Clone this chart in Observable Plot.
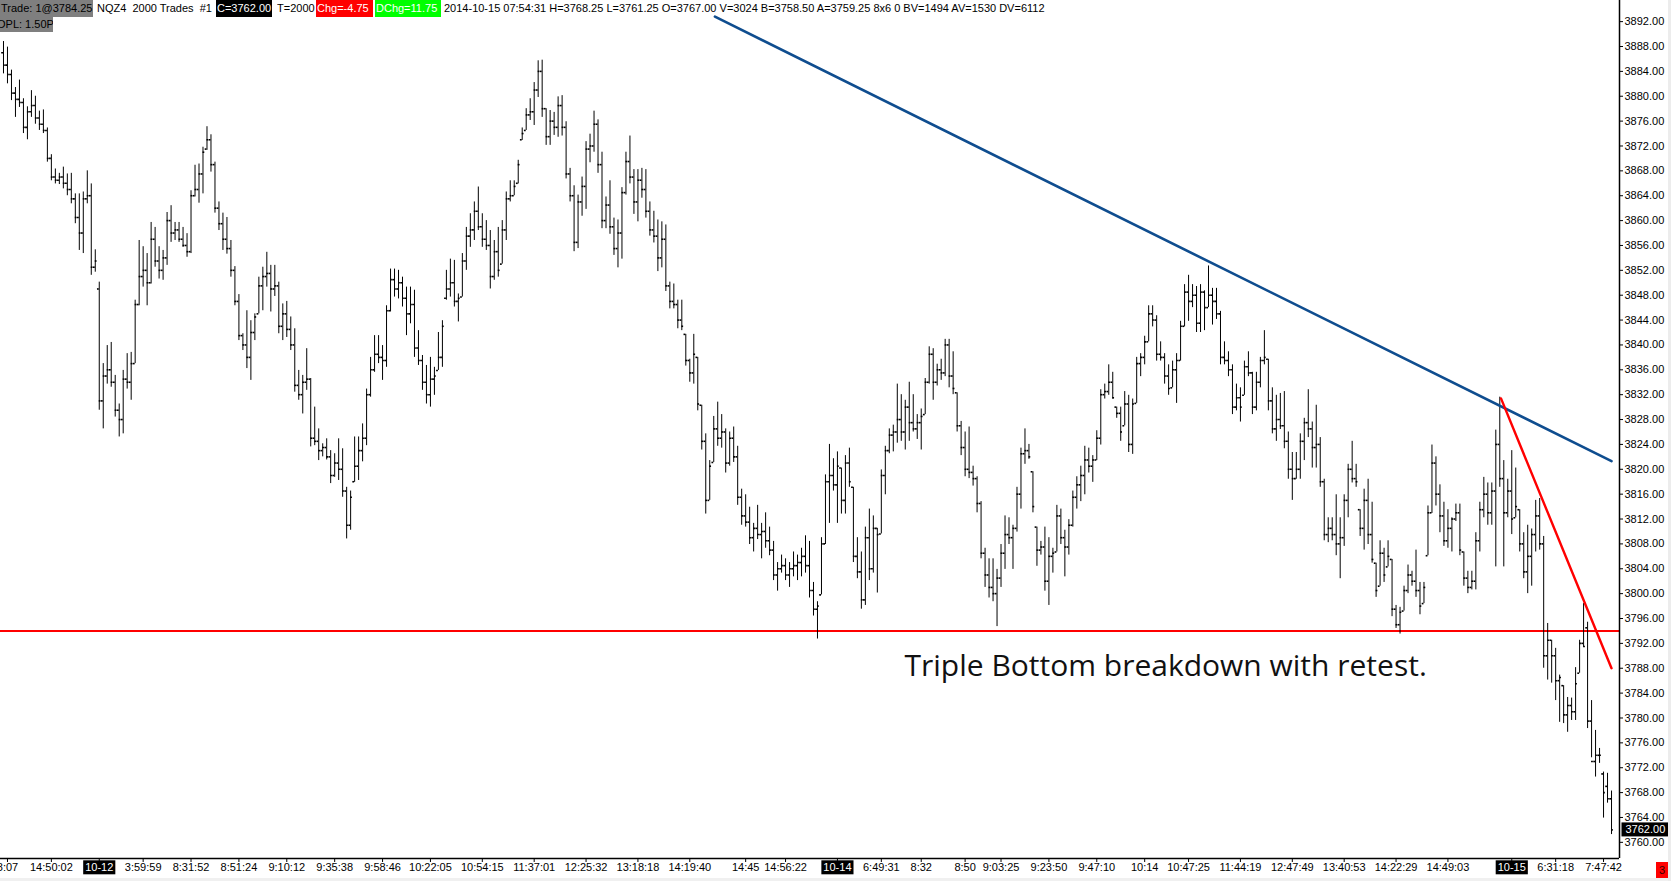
<!DOCTYPE html>
<html><head><meta charset="utf-8">
<script src="https://cdn.jsdelivr.net/npm/d3@7"></script>
<script src="https://cdn.jsdelivr.net/npm/@observablehq/plot@0.6"></script>
<style>
html,body{margin:0;padding:0;background:#fff;}
#wrap{position:relative;width:1671px;height:881px;overflow:hidden;background:#fff;}
#chart{position:absolute;left:0;top:0;}
.h{position:absolute;font:11px "Liberation Sans",Arial,sans-serif;line-height:16px;height:16px;white-space:pre;color:#000;overflow:hidden;}
#strip{position:absolute;left:0;top:878px;width:1671px;height:3px;background:#f0f0f0;}
#redge{position:absolute;left:1668px;top:0;width:3px;height:881px;background:#ececec;}
</style></head>
<body>
<div id="wrap">
  <div id="chart"></div>
  <div class="h" style="left:0;top:0;width:92px;height:17px;background:#7f7f7f;padding-left:1px;">Trade: 1@3784.25</div>
  <div class="h" style="left:97px;top:0;">NQZ4  2000 Trades  #1</div>
  <div class="h" style="left:216px;top:0;width:55px;height:17px;background:#000;color:#fff;padding-left:1px;">C=3762.00</div>
  <div class="h" style="left:277px;top:0;">T=2000</div>
  <div class="h" style="left:316px;top:0;width:56px;height:17px;background:#ff0000;color:#fff;padding-left:1px;">Chg=-4.75</div>
  <div class="h" style="left:375px;top:0;width:65px;height:17px;background:#00ff00;color:#fff;padding-left:1px;">DChg=11.75</div>
  <div class="h" style="left:444px;top:0;">2014-10-15 07:54:31 H=3768.25 L=3761.25 O=3767.00 V=3024 B=3758.50 A=3759.25 8x6 0 BV=1494 AV=1530 DV=6112</div>
  <div class="h" style="left:0;top:17px;width:53px;height:15px;line-height:15px;background:#7f7f7f;"><span style="margin-left:-3px">OPL: 1.50P</span></div>
  <div class="h" style="left:1656px;top:862px;width:12px;height:16px;background:#ff0000;color:#300;text-align:center;">3</div>
  <div id="strip"></div>
  <div id="redge"></div>
</div>
<script>
// ---- data: OHLC bars (2000-trade bars, NQZ4) ----
const high = [
3888.8,3887.9,3884.2,3881.4,3882.6,3879.6,3878.3,3880.9,3880.0,3877.6,
3877.8,3874.9,3870.6,3868.3,3867.6,3868.6,3867.5,3867.6,3864.3,3864.3,
3864.6,3868.0,3865.9,3855.3,3850.1,3837.0,3839.9,3840.4,3835.1,3830.5,
3835.9,3838.6,3838.8,3847.2,3856.8,3855.8,3854.7,3859.7,3858.9,3855.8,
3855.2,3861.3,3862.4,3859.7,3859.7,3858.9,3857.9,3864.8,3868.9,3869.1,
3871.8,3875.1,3873.8,3869.4,3863.0,3861.2,3860.5,3856.8,3852.6,3848.1,
3841.8,3845.5,3843.9,3845.0,3850.9,3852.5,3854.9,3852.8,3852.8,3850.1,
3846.6,3847.0,3844.5,3842.6,3835.9,3835.1,3839.4,3834.6,3830.0,3826.5,
3824.1,3824.9,3823.0,3822.5,3824.9,3823.3,3817.1,3816.5,3825.2,3825.2,
3827.3,3832.9,3838.0,3841.5,3841.5,3839.9,3846.3,3852.2,3852.2,3852.0,
3850.9,3849.3,3849.3,3848.8,3842.3,3838.3,3836.7,3838.0,3836.4,3842.0,
3843.9,3852.0,3853.8,3853.6,3848.2,3854.7,3858.9,3861.1,3863.0,3865.4,
3861.1,3860.0,3858.4,3856.8,3858.9,3860.0,3864.6,3866.4,3866.4,3869.7,
3874.9,3878.0,3879.6,3882.2,3885.7,3885.8,3878.0,3877.7,3877.4,3879.9,
3880.1,3875.9,3868.4,3865.6,3864.1,3867.0,3872.7,3873.9,3877.6,3876.2,
3871.0,3863.8,3866.4,3860.4,3860.1,3865.3,3871.0,3873.6,3868.2,3868.2,
3868.4,3868.2,3863.0,3861.5,3860.1,3859.8,3859.3,3850.1,3849.8,3847.2,
3847.2,3841.7,3837.7,3841.7,3838.0,3830.3,3825.7,3821.4,3828.5,3830.8,
3828.8,3826.5,3826.0,3826.8,3823.7,3816.8,3815.9,3813.9,3811.3,3814.2,
3811.3,3813.0,3810.7,3808.4,3805.0,3806.2,3805.6,3805.0,3806.7,3806.2,
3807.3,3809.3,3808.4,3801.8,3798.7,3809.0,3819.1,3824.0,3821.7,3822.8,
3820.2,3822.2,3823.4,3817.1,3809.0,3806.7,3810.7,3813.6,3812.5,3810.5,
3819.9,3823.7,3826.5,3827.1,3833.7,3832.0,3831.1,3834.0,3832.0,3828.8,
3829.7,3834.6,3839.7,3839.4,3836.9,3837.7,3840.9,3840.9,3838.9,3832.3,
3827.7,3826.0,3826.8,3820.5,3818.8,3814.8,3807.3,3805.6,3805.6,3803.9,
3807.9,3812.5,3812.2,3811.0,3817.1,3823.4,3826.5,3824.0,3819.6,3810.7,
3808.4,3810.7,3809.0,3807.3,3814.2,3813.6,3810.2,3811.9,3816.5,3818.8,
3820.5,3823.7,3823.4,3822.2,3826.2,3832.8,3833.7,3836.8,3835.6,3830.0,
3830.0,3832.5,3831.9,3831.3,3838.0,3838.6,3841.4,3846.3,3846.3,3844.7,
3840.5,3838.6,3836.8,3837.4,3838.6,3843.8,3849.7,3851.2,3849.7,3849.4,
3849.7,3848.7,3852.7,3849.1,3849.1,3845.4,3840.5,3838.9,3836.8,3833.7,
3833.1,3837.4,3838.9,3835.6,3835.6,3838.0,3842.3,3837.7,3833.1,3831.9,
3832.2,3832.5,3826.0,3822.7,3822.7,3825.7,3828.2,3832.8,3827.6,3830.3,
3825.1,3818.4,3812.2,3812.2,3815.9,3812.2,3815.9,3820.8,3824.5,3820.8,
3813.5,3816.8,3818.4,3814.7,3804.9,3808.5,3807.3,3808.5,3805.5,3798.1,
3797.8,3801.2,3804.6,3803.6,3807.0,3801.8,3801.8,3814.1,3823.9,3822.0,
3817.5,3814.7,3813.5,3812.2,3814.4,3814.4,3806.7,3803.6,3803.6,3809.8,
3814.7,3818.7,3817.8,3817.8,3826.3,3831.6,3821.4,3818.4,3823.0,3820.2,
3813.5,3809.8,3811.0,3810.4,3815.0,3815.3,3809.2,3795.2,3792.5,3791.2,
3786.9,3785.2,3783.3,3783.2,3788.1,3792.5,3798.4,3795.4,3782.8,3778.0,
3775.1,3771.3,3771.1,3768.25];
const low = [
3883.6,3882.0,3879.3,3876.6,3878.2,3874.0,3873.0,3876.6,3875.5,3874.5,
3874.0,3869.4,3866.4,3865.9,3865.8,3865.1,3864.0,3862.7,3859.5,3855.2,
3854.7,3862.7,3851.2,3851.7,3829.5,3826.5,3833.7,3833.2,3828.4,3825.2,
3825.7,3832.9,3831.1,3837.0,3846.3,3849.3,3846.3,3849.8,3852.5,3850.6,
3850.4,3852.8,3856.5,3856.8,3856.5,3855.7,3854.1,3854.7,3863.8,3862.8,
3864.3,3871.3,3867.8,3861.2,3858.4,3855.2,3854.6,3850.9,3846.3,3840.7,
3839.1,3836.2,3834.3,3840.7,3845.0,3845.5,3849.3,3845.3,3847.8,3841.8,
3840.7,3841.2,3839.1,3832.4,3831.1,3828.9,3832.7,3823.6,3823.8,3821.4,
3822.0,3821.5,3817.7,3818.7,3818.2,3815.5,3808.8,3810.2,3817.9,3818.2,
3821.2,3823.8,3831.6,3835.6,3837.0,3834.3,3836.4,3845.3,3847.7,3847.4,
3846.1,3841.5,3843.4,3838.0,3836.7,3832.7,3830.5,3830.0,3831.9,3835.9,
3836.4,3847.2,3847.7,3846.1,3843.7,3847.7,3852.0,3855.7,3856.8,3858.4,
3855.7,3855.2,3849.0,3850.4,3850.9,3853.0,3856.8,3863.0,3864.0,3865.9,
3872.9,3874.5,3876.1,3875.3,3879.8,3876.6,3872.1,3872.1,3873.7,3873.4,
3873.6,3866.7,3863.0,3855.0,3855.5,3860.7,3861.8,3869.3,3871.0,3867.6,
3858.7,3858.7,3857.8,3854.4,3852.4,3853.8,3864.1,3865.9,3861.0,3859.8,
3863.6,3860.4,3857.5,3856.4,3851.8,3852.4,3848.6,3845.8,3845.8,3842.6,
3842.3,3836.6,3834.0,3833.7,3829.4,3823.1,3812.8,3815.0,3821.1,3823.7,
3823.4,3819.4,3820.5,3821.1,3814.2,3811.0,3810.7,3807.9,3806.7,3808.7,
3805.6,3807.3,3806.1,3802.1,3800.4,3803.3,3802.1,3801.0,3802.7,3802.1,
3802.7,3803.3,3799.3,3796.4,3792.7,3799.8,3807.9,3811.3,3816.5,3811.3,
3812.8,3812.8,3817.1,3805.0,3802.4,3797.5,3798.1,3802.1,3803.3,3800.1,
3809.6,3815.9,3822.5,3822.8,3824.2,3824.5,3823.1,3824.5,3826.0,3824.8,
3823.1,3828.8,3833.7,3831.1,3833.4,3834.3,3834.9,3833.1,3832.0,3826.0,
3822.2,3818.8,3818.5,3817.3,3813.0,3805.6,3801.0,3799.3,3798.7,3794.7,
3801.0,3803.9,3807.9,3803.9,3809.9,3813.6,3820.8,3821.6,3813.0,3804.4,
3806.2,3800.4,3798.1,3803.3,3806.7,3807.9,3802.7,3806.2,3810.7,3813.6,
3814.8,3815.9,3819.4,3817.9,3821.4,3823.9,3831.3,3831.9,3831.3,3828.2,
3824.5,3827.0,3822.7,3822.4,3830.6,3834.9,3836.8,3840.5,3842.9,3837.4,
3837.4,3833.7,3831.9,3833.1,3830.6,3837.4,3842.9,3843.8,3846.0,3842.0,
3842.0,3842.3,3846.0,3843.2,3844.1,3836.8,3836.8,3834.9,3828.8,3829.4,
3827.6,3831.9,3834.9,3828.8,3829.4,3833.1,3836.8,3829.4,3825.7,3824.5,
3826.4,3823.3,3818.4,3815.0,3818.4,3818.4,3821.4,3825.1,3820.2,3820.2,
3817.1,3808.5,3808.2,3808.5,3806.1,3802.4,3807.6,3812.2,3817.8,3817.1,
3809.2,3807.0,3807.9,3804.9,3799.4,3801.2,3801.8,3804.3,3796.3,3794.4,
3793.5,3797.2,3800.0,3801.2,3799.4,3796.6,3798.4,3806.1,3812.9,3814.1,
3809.8,3807.6,3807.3,3806.7,3811.6,3806.1,3801.2,3800.0,3800.6,3800.6,
3806.7,3812.2,3811.0,3811.0,3804.3,3817.1,3804.3,3812.2,3809.5,3812.2,
3806.7,3802.4,3800.0,3801.2,3806.7,3807.0,3788.0,3786.1,3785.6,3782.8,
3779.3,3779.1,3777.7,3779.6,3779.6,3787.2,3791.4,3778.3,3773.6,3770.5,
3772.7,3763.9,3766.3,3761.25];
const open = [
3887.0,3885.0,3883.5,3880.5,3879.5,3879.0,3875.0,3877.5,3878.5,3876.5,
3875.5,3874.5,3870.0,3867.0,3866.5,3867.0,3866.0,3865.0,3863.5,3860.5,
3858.0,3863.5,3864.0,3852.5,3849.0,3831.0,3835.0,3836.0,3834.0,3829.5,
3828.0,3834.5,3834.0,3837.0,3846.5,3851.0,3852.0,3850.0,3857.0,3853.5,
3852.0,3854.0,3860.0,3858.0,3858.5,3857.0,3856.0,3855.0,3864.0,3865.0,
3867.5,3871.5,3873.0,3869.0,3862.0,3859.5,3857.0,3855.5,3852.0,3847.0,
3841.5,3840.0,3838.0,3842.0,3845.0,3849.5,3851.0,3851.5,3849.0,3849.5,
3843.0,3845.0,3842.5,3840.0,3833.5,3832.0,3834.0,3834.5,3825.0,3824.5,
3823.0,3823.5,3822.0,3819.0,3821.0,3820.0,3816.5,3811.0,3818.0,3820.5,
3823.0,3825.0,3832.0,3836.0,3838.5,3838.0,3837.5,3845.5,3850.5,3849.0,
3850.0,3847.5,3845.0,3846.5,3839.5,3837.5,3834.0,3832.0,3834.5,3835.9,
3838.0,3847.5,3849.0,3850.0,3847.0,3847.7,3853.5,3857.5,3858.5,3861.5,
3859.0,3857.0,3856.0,3851.0,3855.0,3853.0,3858.5,3863.5,3864.0,3866.0,
3873.0,3874.5,3877.0,3877.5,3881.0,3884.0,3878.0,3873.5,3876.0,3875.0,
3878.5,3875.0,3867.5,3864.0,3856.5,3863.0,3865.5,3871.5,3872.0,3875.5,
3869.0,3860.0,3862.5,3859.0,3855.5,3858.0,3864.5,3869.5,3867.0,3863.0,
3866.5,3865.0,3861.5,3858.5,3857.5,3854.0,3857.0,3849.5,3847.0,3846.5,
3844.0,3841.7,3837.5,3835.5,3838.0,3830.3,3824.5,3815.0,3821.1,3826.5,
3825.0,3826.0,3821.0,3825.0,3822.0,3815.5,3812.5,3811.5,3809.0,3810.5,
3809.5,3810.0,3808.5,3807.0,3803.0,3804.0,3804.5,3803.0,3804.0,3804.5,
3805.0,3806.0,3804.5,3800.5,3797.5,3799.8,3808.0,3818.0,3819.0,3817.5,
3820.2,3815.0,3821.0,3817.1,3806.0,3803.5,3799.0,3809.0,3804.0,3810.5,
3809.6,3819.0,3823.0,3825.5,3826.0,3828.0,3826.0,3830.0,3827.5,3826.5,
3827.5,3828.8,3834.0,3838.5,3834.0,3836.0,3835.5,3840.0,3835.0,3832.3,
3827.0,3823.5,3820.0,3819.5,3818.5,3814.5,3806.5,3803.0,3801.0,3800.0,
3802.5,3806.5,3809.5,3809.0,3810.5,3816.0,3822.5,3823.0,3819.6,3810.7,
3807.0,3807.5,3802.0,3806.0,3806.7,3812.5,3809.0,3807.5,3811.0,3815.5,
3817.5,3819.0,3821.5,3820.5,3821.5,3825.0,3832.0,3832.5,3834.0,3830.0,
3829.0,3827.0,3830.5,3824.0,3830.6,3837.0,3838.0,3840.5,3845.0,3844.0,
3838.5,3838.0,3835.0,3833.1,3836.0,3837.5,3843.0,3848.5,3847.0,3848.0,
3843.5,3848.5,3846.0,3848.0,3847.0,3845.0,3838.0,3837.5,3836.0,3830.0,
3831.5,3831.9,3836.5,3835.5,3830.0,3834.0,3837.5,3837.7,3831.0,3826.5,
3828.0,3827.0,3824.5,3820.0,3818.5,3820.0,3824.5,3827.5,3826.5,3823.5,
3824.0,3818.0,3809.5,3810.5,3809.5,3808.0,3809.0,3815.0,3820.0,3818.5,
3813.5,3810.5,3815.0,3809.5,3804.9,3801.2,3806.5,3804.3,3805.5,3797.5,
3795.0,3797.2,3800.5,3803.0,3802.0,3800.5,3798.4,3806.1,3813.0,3821.0,
3816.0,3812.5,3808.5,3810.5,3812.0,3813.0,3806.7,3802.5,3801.0,3802.0,
3808.5,3813.5,3816.0,3813.0,3816.5,3824.0,3818.5,3813.0,3816.5,3812.2,
3813.5,3808.0,3803.5,3806.0,3809.5,3812.5,3808.0,3790.0,3792.5,3790.0,
3786.0,3785.2,3780.5,3782.0,3781.0,3787.2,3792.0,3794.5,3779.5,3773.0,
3774.0,3771.0,3769.0,3767.0];
const close = [
3885.0,3883.5,3880.5,3879.5,3879.0,3875.0,3877.5,3878.5,3876.5,3875.5,
3874.5,3870.0,3867.0,3866.5,3867.0,3866.0,3865.0,3863.5,3860.5,3858.0,
3863.5,3864.0,3852.5,3853.5,3831.0,3835.0,3836.0,3834.0,3829.5,3828.0,
3834.5,3834.0,3837.0,3846.5,3851.0,3852.0,3850.0,3857.0,3853.5,3852.0,
3854.0,3860.0,3858.0,3858.5,3857.0,3856.0,3855.0,3864.0,3865.0,3867.5,
3871.0,3873.0,3869.0,3862.0,3859.5,3857.0,3855.5,3852.0,3847.0,3841.5,
3840.0,3838.0,3842.0,3844.5,3849.5,3851.0,3851.5,3849.0,3849.5,3843.0,
3845.0,3842.5,3840.0,3833.5,3832.0,3834.0,3834.5,3825.0,3824.5,3823.0,
3823.5,3822.0,3819.0,3821.0,3820.0,3816.5,3811.0,3815.5,3820.5,3823.0,
3825.0,3832.0,3836.0,3838.5,3838.0,3837.5,3845.5,3850.5,3849.0,3850.0,
3847.5,3845.0,3846.5,3839.5,3837.5,3834.0,3832.0,3834.5,3835.0,3838.0,
3843.0,3849.0,3850.0,3847.0,3847.5,3853.5,3857.5,3858.5,3861.5,3859.0,
3857.0,3856.0,3851.0,3855.0,3852.0,3858.5,3863.5,3864.0,3865.5,3869.0,
3874.0,3877.0,3877.5,3881.0,3884.0,3878.0,3873.5,3876.0,3875.0,3878.5,
3875.0,3867.5,3864.0,3856.5,3863.0,3865.5,3871.5,3872.0,3875.5,3869.0,
3860.0,3862.5,3859.0,3855.5,3858.0,3864.5,3869.5,3867.0,3863.0,3866.5,
3865.0,3861.5,3858.5,3857.5,3854.0,3857.0,3849.5,3847.0,3846.5,3844.0,
3843.0,3837.5,3835.5,3838.5,3830.5,3824.5,3815.0,3820.5,3826.5,3825.0,
3826.0,3821.0,3825.0,3822.0,3815.5,3812.5,3811.5,3809.0,3810.5,3809.5,
3810.0,3808.5,3807.0,3803.0,3804.0,3804.5,3803.0,3804.0,3804.5,3805.0,
3806.0,3804.5,3800.5,3797.5,3798.0,3808.0,3818.0,3819.0,3817.5,3820.5,
3815.0,3821.0,3818.0,3806.0,3803.5,3799.0,3809.0,3804.0,3810.5,3809.5,
3819.0,3823.0,3825.5,3826.0,3828.0,3826.0,3830.0,3827.5,3826.5,3827.5,
3828.5,3834.0,3838.5,3834.0,3836.0,3835.5,3840.0,3835.0,3833.0,3827.0,
3823.5,3820.0,3819.5,3818.5,3814.5,3806.5,3803.0,3801.0,3800.0,3802.5,
3806.5,3809.5,3809.0,3810.5,3816.0,3822.5,3823.0,3822.0,3814.0,3807.0,
3807.5,3802.0,3806.0,3806.5,3812.5,3809.0,3807.5,3811.0,3815.5,3817.5,
3819.0,3821.5,3820.5,3821.5,3825.0,3832.0,3832.5,3834.0,3831.5,3829.0,
3826.0,3830.5,3824.0,3830.5,3837.0,3838.0,3840.5,3845.0,3844.0,3838.5,
3838.0,3835.0,3833.0,3836.0,3837.5,3843.0,3848.5,3847.0,3848.0,3843.5,
3848.5,3846.0,3848.0,3847.0,3845.0,3838.0,3837.5,3836.0,3830.0,3831.5,
3830.0,3836.5,3835.5,3830.0,3834.0,3837.5,3838.0,3831.0,3826.5,3828.0,
3827.0,3824.5,3820.0,3818.5,3820.0,3824.5,3827.5,3826.5,3823.5,3824.0,
3818.0,3809.5,3810.5,3809.5,3808.0,3809.0,3815.0,3820.0,3818.5,3818.0,
3810.5,3815.0,3809.5,3805.5,3800.5,3806.5,3803.0,3806.0,3797.5,3795.0,
3797.0,3800.5,3803.0,3802.0,3800.5,3798.0,3801.0,3813.0,3821.0,3816.0,
3812.5,3808.5,3810.5,3812.0,3813.0,3807.0,3802.5,3801.0,3802.0,3808.5,
3813.5,3816.0,3813.0,3816.5,3824.0,3818.5,3813.0,3816.5,3812.0,3814.0,
3808.0,3803.5,3806.0,3809.5,3812.5,3808.0,3790.0,3792.5,3790.0,3786.0,
3786.5,3780.5,3782.0,3781.0,3785.5,3792.0,3791.5,3779.5,3773.0,3774.0,
3774.0,3768.0,3767.0,3762.0];

// x-axis tick labels (bar index -> time / session date)
const tickIdx = [1,12,24,35,47,59,71,83,95,107,120,133,146,159,172,186,196,209,220,230,241,250,262,274,286,297,310,323,336,349,362,378,389,401];
const tickLbl = ["8:07","14:50:02","10-12","3:59:59","8:31:52","8:51:24","9:10:12","9:35:38","9:58:46","10:22:05","10:54:15","11:37:01","12:25:32","13:18:18","14:19:40","14:45","14:56:22","10-14","6:49:31","8:32","8:50","9:03:25","9:23:50","9:47:10","10:14","10:47:25","11:44:19","12:47:49","13:40:53","14:22:29","14:49:03","10-15","6:31:18","7:47:42"];
const yTicks = d3.range(3760, 3893, 4);

// drawn studies
const supportLevel = 3794;
const blueX = [178.3, 403];
const blueY = [3892.8, 3821.3];
const redX = [375.3, 403];
const redY = [3831.4, 3788.0];
const noteText = "Triple Bottom breakdown with retest.";
const noteX = 225.8;
const noteY = 3786.7;

// ---- chart ----
const bars = high.map((h, i) => ({i, high: h, low: low[i], open: open[i], close: close[i]}));
const xDomain = [-0.75, 405];
const yDomain = [3757.4, 3895.4];
const lastClose = close[close.length - 1];
const lastLabel = d3.format(".2f")(lastClose);

const plot = Plot.plot({
  width: 1671, height: 881,
  marginLeft: 0, marginRight: 52, marginTop: 0, marginBottom: 23,
  x: {domain: xDomain, label: null},
  y: {domain: yDomain, label: null},
  style: {fontFamily: "'Liberation Sans', Arial, sans-serif", fontSize: "11px", color: "#000", background: "#fff"},
  marks: [
    Plot.ruleY([supportLevel], {stroke: "#ff0000", strokeWidth: 2}),
    Plot.ruleX(bars, {x: "i", y1: "low", y2: "high", stroke: "#000", strokeWidth: 1}),
    Plot.ruleY(bars, {y: "open", x1: d => d.i - 0.45, x2: "i", stroke: "#000", strokeWidth: 1.6}),
    Plot.ruleY(bars, {y: "close", x1: "i", x2: d => d.i + 0.45, stroke: "#000", strokeWidth: 1.6}),
    Plot.line(blueX.map((x, k) => ({x, y: blueY[k]})), {x: "x", y: "y", stroke: "#0f4d8f", strokeWidth: 2.6}),
    Plot.line(redX.map((x, k) => ({x, y: redY[k]})), {x: "x", y: "y", stroke: "#ff0000", strokeWidth: 2.4}),
    Plot.text([noteText], {x: () => noteX, y: () => noteY, text: d => d, textAnchor: "start", lineAnchor: "bottom",
      fontFamily: "'Open Sans', sans-serif", fontSize: 30, fill: "#111"}),
    Plot.ruleX([xDomain[1]], {stroke: "#000", strokeWidth: 1.5}),
    Plot.ruleY([yDomain[0]], {stroke: "#000", strokeWidth: 1.5}),
    Plot.axisY(yTicks, {anchor: "right", tickFormat: d3.format(".2f"), tickSize: 3, tickPadding: 2, label: null}),
    Plot.axisX(tickIdx, {anchor: "bottom", tickFormat: v => tickLbl[tickIdx.indexOf(v)], tickSize: 4, tickPadding: 1, label: null}),
    Plot.text([lastClose], {x: () => xDomain[1], y: d => d, text: () => lastLabel, dx: 6, textAnchor: "start",
      fill: "#fff", fontSize: 11})
  ]
});
document.getElementById("chart").appendChild(plot);

// black boxes behind session-date labels and the last price
function boxBehind(t, padX, padY) {
  const bb = t.getBBox();
  const r = document.createElementNS("http://www.w3.org/2000/svg", "rect");
  r.setAttribute("x", bb.x - padX);
  r.setAttribute("y", bb.y - padY);
  r.setAttribute("width", bb.width + 2 * padX);
  r.setAttribute("height", bb.height + 2 * padY);
  r.setAttribute("fill", "#000");
  if (t.getAttribute("transform")) r.setAttribute("transform", t.getAttribute("transform"));
  t.parentNode.insertBefore(r, t);
  t.setAttribute("fill", "#fff");
}
d3.select(plot).selectAll("text").each(function() {
  const s = this.textContent;
  if (/^\d{2}-\d{2}$/.test(s)) boxBehind(this, 2, 1);
  else if (s === lastLabel) boxBehind(this, 4, 1);
});
</script>
</body></html>
